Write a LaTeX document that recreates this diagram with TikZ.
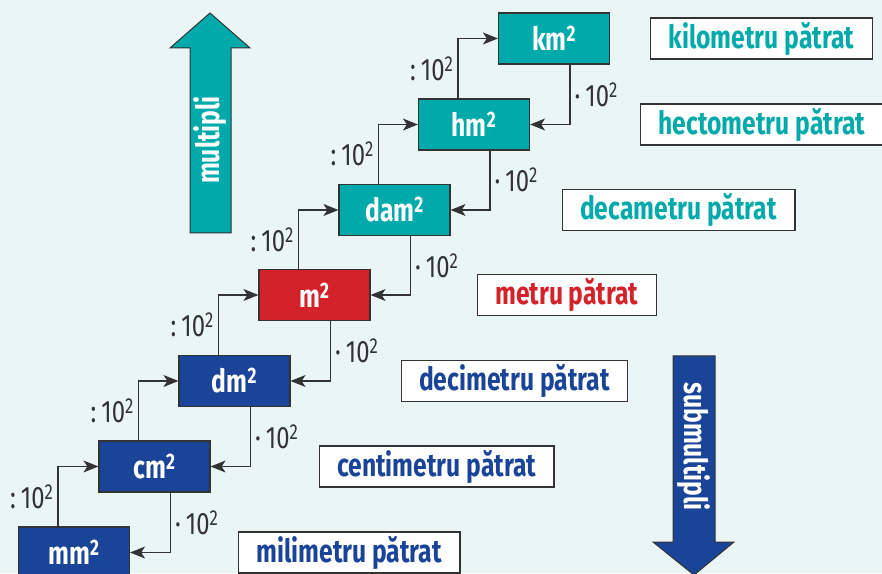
\documentclass[tikz,border=0pt]{standalone}
\usepackage{fontspec}
\setmainfont{Fira Sans}[FakeStretch=0.77]
\usepackage{xcolor}
\usetikzlibrary{arrows.meta,positioning}

\definecolor{bgcyan}{HTML}{EAF6F6}
\definecolor{tealbox}{HTML}{00A9AA}
\definecolor{bluebox}{HTML}{1A4498}
\definecolor{redbox}{HTML}{D3222A}
\definecolor{linegray}{HTML}{333333}

\begin{document}
\begin{tikzpicture}[
  x=1pt, y=1pt,
  unit/.style={draw=linegray, line width=1.2pt, minimum width=111pt, minimum height=51pt, inner sep=0pt, text=white, font=\fontsize{32}{34}\selectfont\bfseries},
  unitname/.style={draw=linegray, line width=1.2pt, fill=white, minimum height=41pt, inner xsep=18pt, inner ysep=0pt, font=\fontsize{32}{34}\selectfont\bfseries},
  factor/.style={font=\fontsize{31}{33}\selectfont, text=linegray, inner sep=4pt},
  arr/.style={-{Stealth[length=15pt, width=12pt, inset=4pt]}, draw=linegray, line width=1.2pt},
  bigarrow/.style={draw=linegray, line width=1pt}
]
  \fill[bgcyan] (0,0) rectangle (882,573);
  \useasboundingbox (0,0) rectangle (882,573);

  % unit boxes
  \node[unit, fill=bluebox] (mm) at (74,20.5) {mm\textsuperscript{2}};
  \node[unit, fill=bluebox] (cm) at (154.5,106.5) {cm\textsuperscript{2}};
  \node[unit, fill=bluebox] (dm) at (234.5,192) {dm\textsuperscript{2}};
  \node[unit, fill=redbox] (m) at (314.5,278) {m\textsuperscript{2}};
  \node[unit, fill=tealbox] (dam) at (394.5,363) {dam\textsuperscript{2}};
  \node[unit, fill=tealbox] (hm) at (474,448.5) {hm\textsuperscript{2}};
  \node[unit, fill=tealbox] (km) at (554,534.5) {km\textsuperscript{2}};

  % names
  \node[unitname, text=bluebox, right=108pt of mm] (mmname) {milimetru pătrat};
  \node[unitname, text=bluebox, right=108pt of cm] (cmname) {centimetru pătrat};
  \node[unitname, text=bluebox, right=110pt of dm] (dmname) {decimetru pătrat};
  \node[unitname, text=redbox, right=106pt of m] (mname) {metru pătrat};
  \node[unitname, text=tealbox, right=111pt of dam] (damname) {decametru pătrat};
  \node[unitname, text=tealbox, right=110pt of hm] (hmname) {hectometru pătrat};
  \node[unitname, text=tealbox, right=40pt of km] (kmname) {kilometru pătrat};

  % conversions
  \foreach \lo/\hi in {mm/cm, cm/dm, dm/m, m/dam, dam/hm, hm/km}{
    \draw[arr] ([xshift=-16pt]\lo.north) |- node[factor, pos=0.25, left] {:\,10\textsuperscript{2}} (\hi.west);
    \draw[arr] ([xshift=16pt]\hi.south) |- node[factor, pos=0.25, right] {·\,10\textsuperscript{2}} (\lo.east);
  }

  % big arrows
  \draw[bigarrow, fill=tealbox] (190,340) -- (190,525) -- (170,525) -- (210,560) -- (250,525) -- (231,525) -- (231,340) -- cycle;
  \node[rotate=90, text=white, font=\fontsize{32}{34}\selectfont\bfseries] (multipli) at (210.5,433) {multipli};
  \draw[bigarrow, fill=bluebox] (673,217) -- (673,31) -- (653,31) -- (694,-2) -- (734,31) -- (715,31) -- (715,217) -- cycle;
  \node[rotate=-90, text=white, font=\fontsize{32}{34}\selectfont\bfseries] (submultipli) at (694,126.5) {submultipli};
\end{tikzpicture}
\end{document}
